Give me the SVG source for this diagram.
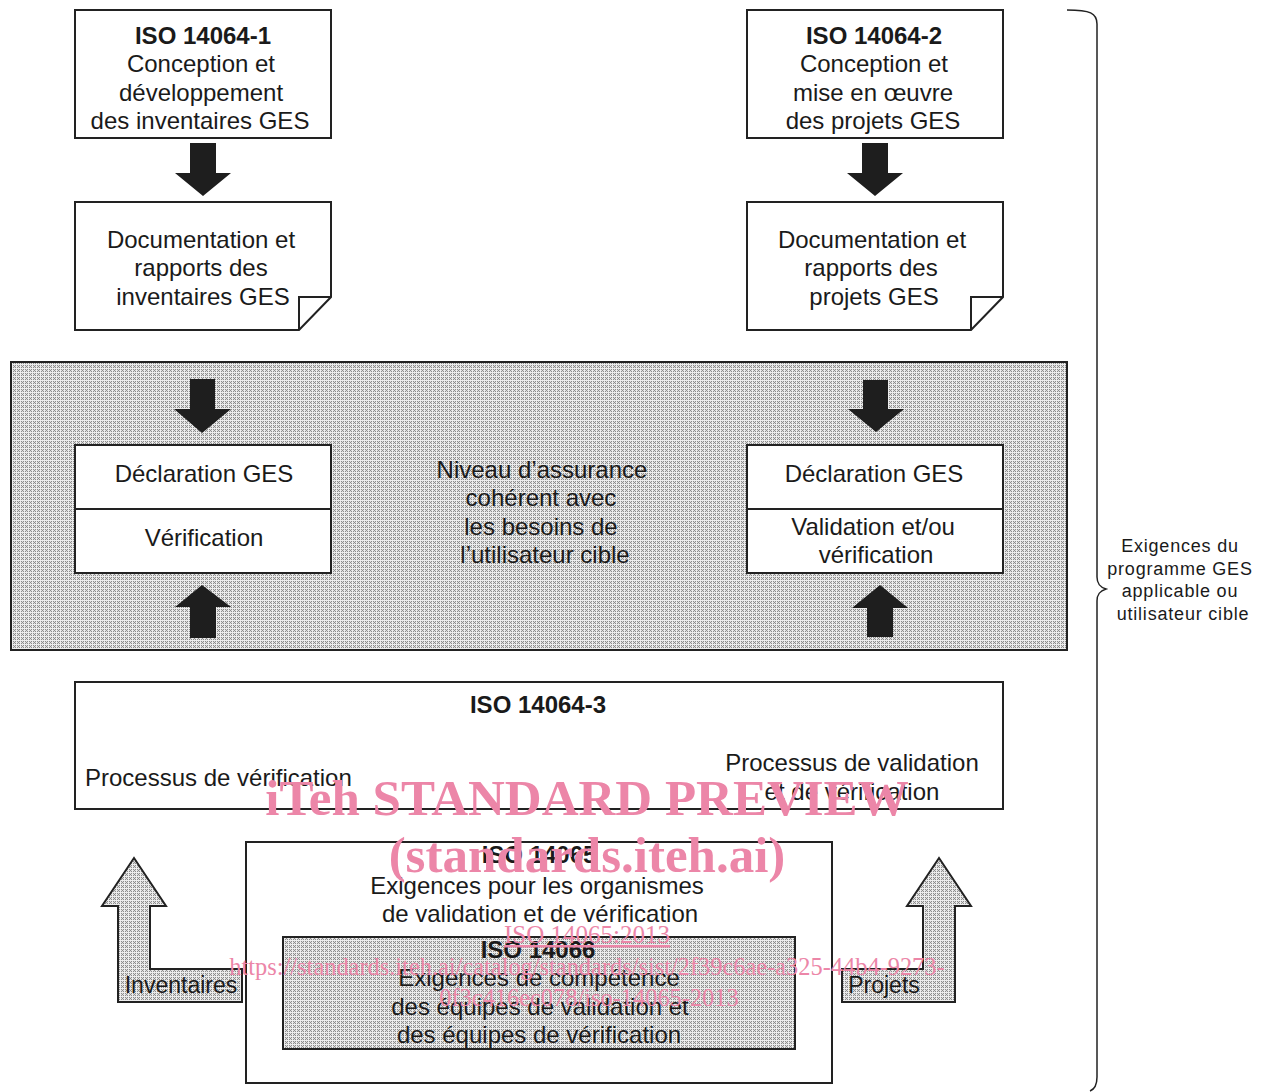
<svg xmlns="http://www.w3.org/2000/svg" width="1270" height="1092" viewBox="0 0 1270 1092">
<defs>
<pattern id="hatch" width="4" height="4" patternUnits="userSpaceOnUse">
<rect width="4" height="4" fill="#dedede"/>
<rect x="0" y="0" width="4" height="1" fill="#ededed"/>
<rect x="0" y="0" width="1" height="4" fill="#ededed"/>
<rect x="1" y="1" width="1" height="1" fill="#8c8c8c"/>
<rect x="3" y="1" width="1" height="1" fill="#8c8c8c"/>
<rect x="2" y="2" width="1" height="1" fill="#8c8c8c"/>
<rect x="1" y="3" width="1" height="1" fill="#8c8c8c"/>
<rect x="3" y="3" width="1" height="1" fill="#8c8c8c"/>
</pattern>
<style>
.box{fill:#fff;stroke:#222;stroke-width:2}
.gray{fill:url(#hatch);stroke:#222;stroke-width:2}
.ln{fill:none;stroke:#222;stroke-width:2}
.arr{fill:#1e1e1e;stroke:none}
.harr{fill:url(#hatch);stroke:#222;stroke-width:2;stroke-linejoin:miter}
.t{font-family:"Liberation Sans",Arial,sans-serif;font-size:24px;fill:#1a1a1a;text-anchor:middle}
.b{font-weight:bold}
.s{font-family:"Liberation Sans",Arial,sans-serif;font-size:18px;letter-spacing:0.8px;fill:#1a1a1a;text-anchor:middle}
.wm{font-family:"Liberation Serif","Times New Roman",serif;fill:#ec86a8}
</style>
</defs>

<g id="gray-area">
<rect class="gray" x="11" y="362" width="1056" height="288"/>
</g>

<g id="iso14064-1">
<rect class="box" x="75" y="10" width="256" height="128"/>
<text class="t b" x="203" y="44">ISO 14064-1</text>
<text class="t" x="201" y="72">Conception et</text>
<text class="t" x="201" y="101">développement</text>
<text class="t" x="200" y="129">des inventaires GES</text>
</g>

<g id="doc-inventaires">
<path class="box" d="M75,202 H331 V297 L299,330 H75 Z"/>
<path class="ln" d="M299,330 V297 H331"/>
<text class="t" x="201" y="248">Documentation et</text>
<text class="t" x="201" y="276">rapports des</text>
<text class="t" x="203" y="305">inventaires GES</text>
</g>

<g id="iso14064-2">
<rect class="box" x="747" y="10" width="256" height="128"/>
<text class="t b" x="874" y="44">ISO 14064-2</text>
<text class="t" x="874" y="72">Conception et</text>
<text class="t" x="873" y="101">mise en œuvre</text>
<text class="t" x="873" y="129">des projets GES</text>
</g>

<g id="doc-projets">
<path class="box" d="M747,202 H1003 V297 L971,330 H747 Z"/>
<path class="ln" d="M971,330 V297 H1003"/>
<text class="t" x="872" y="248">Documentation et</text>
<text class="t" x="871" y="276">rapports des</text>
<text class="t" x="874" y="305">projets GES</text>
</g>

<g id="decl-left">
<rect class="box" x="75" y="445" width="256" height="128"/>
<line class="ln" x1="75" y1="509" x2="331" y2="509"/>
<text class="t" x="204" y="482">Déclaration GES</text>
<text class="t" x="204" y="546">Vérification</text>
</g>

<g id="decl-right">
<rect class="box" x="747" y="445" width="256" height="128"/>
<line class="ln" x1="747" y1="509" x2="1003" y2="509"/>
<text class="t" x="874" y="482">Déclaration GES</text>
<text class="t" x="873" y="535">Validation et/ou</text>
<text class="t" x="876" y="563">vérification</text>
</g>

<g id="niveau">
<text class="t" x="542" y="478">Niveau d’assurance</text>
<text class="t" x="541" y="506">cohérent avec</text>
<text class="t" x="541" y="535">les besoins de</text>
<text class="t" x="545" y="563">l’utilisateur cible</text>
</g>

<g id="iso14064-3">
<rect class="box" x="75" y="682" width="928" height="127"/>
<text class="t b" x="538" y="713">ISO 14064-3</text>
<text class="t" x="85" y="786" style="text-anchor:start">Processus de vérification</text>
<text class="t" x="852" y="771">Processus de validation</text>
<text class="t" x="852" y="800">et de vérification</text>
</g>

<g id="iso14065">
<rect class="box" x="246" y="842" width="586" height="241"/>
<text class="t b" x="539" y="863">ISO 14065</text>
<text class="t" x="537" y="894">Exigences pour les organismes</text>
<text class="t" x="540" y="922">de validation et de vérification</text>
</g>

<g id="iso14066">
<rect class="gray" x="283" y="937" width="512" height="112"/>
<text class="t b" x="538" y="958">ISO 14066</text>
<text class="t" x="539" y="986">Exigences de compétence</text>
<text class="t" x="540" y="1015">des équipes de validation et</text>
<text class="t" x="539" y="1043">des équipes de vérification</text>
</g>

<g id="inventaires">
<polygon class="harr" points="134,858 166,906 150,906 150,969 242,969 242,1002 118,1002 118,906 102,906"/>
<text class="t" x="181" y="993" style="font-size:23px">Inventaires</text>
</g>

<g id="projets">
<polygon class="harr" points="939,858 971,906 955,906 955,1002 842,1002 842,969 923,969 923,906 907,906"/>
<text class="t" x="884" y="993" style="font-size:23px">Projets</text>
</g>

<g id="brace">
<path class="ln" style="stroke-width:1.5" d="M1067,10 C1090,10 1097,13 1097,24 L1097,577 C1097,584 1100,587 1106,589 C1100,591 1097,594 1097,601 L1097,1077 C1097,1085 1095,1089 1090,1091"/>
<text class="s" x="1180" y="552">Exigences du</text>
<text class="s" x="1180" y="575">programme GES</text>
<text class="s" x="1180" y="597">applicable ou</text>
<text class="s" x="1183" y="620">utilisateur cible</text>
</g>

<g id="connectors">
<polygon class="arr" points="190,143 216,143 216,173 231,173 203,196 175,173 190,173"/>
<polygon class="arr" points="862,143 888,143 888,173 903,173 875,196 847,173 862,173"/>
<polygon class="arr" points="190,379 215,379 215,409 231,409 202,433 174,409 190,409"/>
<polygon class="arr" points="863,380 888,380 888,409 904,409 876,432 848,409 863,409"/>
<polygon class="arr" points="202,585 231,607 216,607 216,638 190,638 190,607 175,607"/>
<polygon class="arr" points="880,585 908,608 893,608 893,637 867,637 867,608 852,608"/>
</g>

<g id="watermark">
<text class="wm" x="587" y="815" style="font-size:51px;font-weight:bold;text-anchor:middle">iTeh STANDARD PREVIEW</text>
<text class="wm" x="587" y="872" style="font-size:51px;font-weight:bold;text-anchor:middle">(standards.iteh.ai)</text>
<text class="wm" x="587" y="943" style="font-size:25px;text-anchor:middle;text-decoration:underline">ISO 14065:2013</text>
<text class="wm" x="587" y="975" style="font-size:24.4px;text-anchor:middle">https://standards.iteh.ai/catalog/standards/sist/2f39c6ae-a325-44b4-9273-</text>
<text class="wm" x="589" y="1006" style="font-size:24.4px;text-anchor:middle">0f3c416ec078/iso-14065-2013</text>
</g>
</svg>
